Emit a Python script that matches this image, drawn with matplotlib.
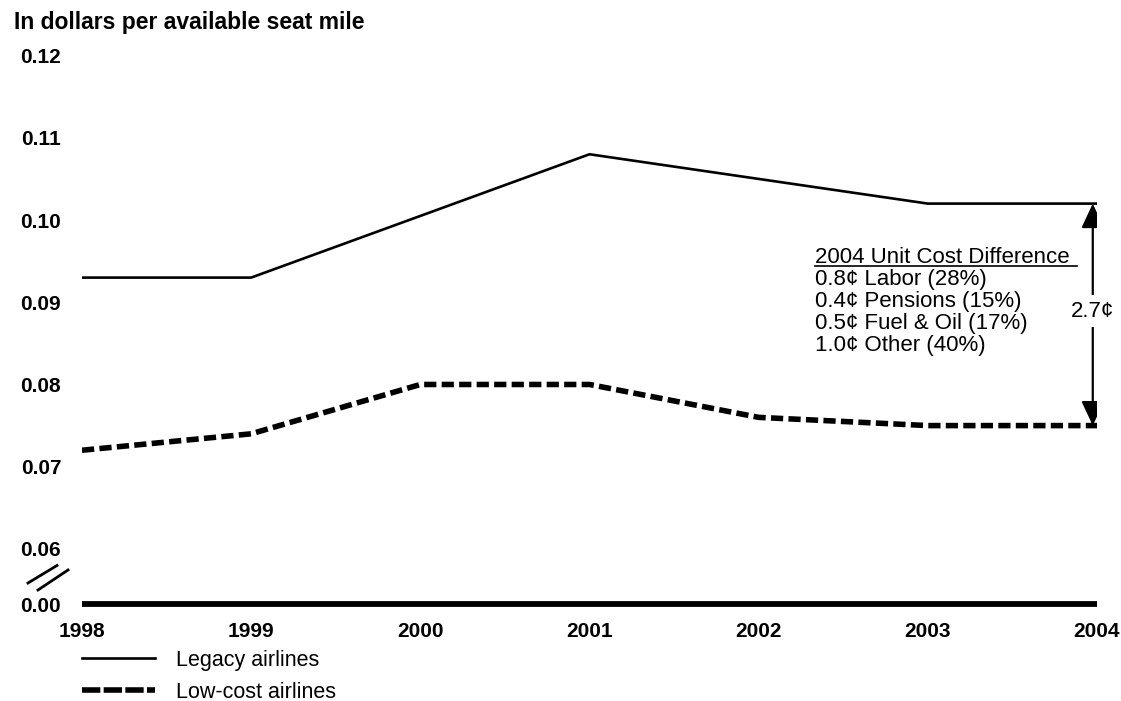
import matplotlib
matplotlib.use("Agg")
import matplotlib.pyplot as plt
from matplotlib.lines import Line2D
from matplotlib.patches import FancyArrowPatch

# Unit cost data, dollars per available seat mile
years = [1998, 1999, 2000, 2001, 2002, 2003, 2004]
legacy = [0.093, 0.093, 0.1005, 0.108, 0.105, 0.102, 0.102]
low_cost = [0.072, 0.074, 0.080, 0.080, 0.076, 0.075, 0.075]

y_ticks = [0.06, 0.07, 0.08, 0.09, 0.10, 0.11, 0.12]
y_tick_labels = ["0.06", "0.07", "0.08", "0.09", "0.10", "0.11", "0.12"]

breakdown_title = "2004 Unit Cost Difference"
breakdown_lines = [
    "0.8\u00a2 Labor (28%)",
    "0.4\u00a2 Pensions (15%)",
    "0.5\u00a2 Fuel & Oil (17%)",
    "1.0\u00a2 Other (40%)",
]

plt.rcParams["font.family"] = ["Liberation Sans", "DejaVu Sans"]

W, H = 1121, 701
fig = plt.figure(figsize=(W / 100, H / 100), dpi=100)

# the axis is broken: the baseline stands in for zero below 0.06
baseline = 0.0533
left_px, right_px, top_px, bottom_px = 82, 1097, 55.6, 604
ax = fig.add_axes([left_px / W, 1 - bottom_px / H,
                   (right_px - left_px) / W, (bottom_px - top_px) / H])
ax.set_xlim(years[0], years[-1])
ax.set_ylim(baseline, 0.12)

ax.plot(years, legacy, color="black", lw=1.9, solid_joinstyle="miter")
ax.plot(years, low_cost, color="black", lw=4, linestyle=(0, (2.2, 0.95)),
        dash_capstyle="butt")

for side in ("top", "right", "left"):
    ax.spines[side].set_visible(False)
ax.spines["bottom"].set_linewidth(4.2)
ax.spines["bottom"].set_capstyle("butt")

ax.set_yticks([baseline] + y_ticks)
ax.set_yticklabels(["0.00"] + y_tick_labels)
ax.set_xticks(years)
ax.set_xticklabels([str(y) for y in years])
ax.tick_params(axis="both", length=0, labelsize=15)
ax.tick_params(axis="y", pad=15)
ax.tick_params(axis="x", pad=13)
for lab in ax.get_xticklabels() + ax.get_yticklabels():
    lab.set_fontweight("bold")

# axis break marks
for x0, y0, x1, y1 in [(28, 583, 57, 565.5), (38, 590, 68, 570)]:
    fig.add_artist(Line2D([x0 / W, x1 / W], [1 - y0 / H, 1 - y1 / H],
                          transform=fig.transFigure, color="black", lw=2))

fig.text(14 / W, 1 - 22 / H, "In dollars per available seat mile",
         fontsize=16.5, fontweight="bold", ha="left", va="center")

# gap between the two series in 2004
x_arrow = years[-1] - 0.025
diff = legacy[-1] - low_cost[-1]
arrow = FancyArrowPatch((x_arrow, low_cost[-1]), (x_arrow, legacy[-1]),
                        arrowstyle="<|-|>,head_length=1.5,head_width=0.7",
                        mutation_scale=10, color="black", lw=1.6,
                        shrinkA=0, shrinkB=0)
ax.add_patch(arrow)
ax.text(x_arrow, (legacy[-1] + low_cost[-1]) / 2 + 0.0004,
        f"{diff * 100:.1f}\u00a2", fontsize=16, ha="center", va="center",
        bbox=dict(facecolor="white", edgecolor="none", pad=4))

# cost breakdown block
tx = 2002.333
ty = 0.0955
step = 0.00268
ax.text(tx, ty, breakdown_title, fontsize=16, ha="left", va="center")
ax.plot([tx, 2003.88], [ty - 0.0011, ty - 0.0011], color="black", lw=1.2)
for i, line in enumerate(breakdown_lines):
    ax.text(tx, ty - step * (i + 1), line, fontsize=16, ha="left", va="center")

handles = [
    Line2D([], [], color="black", lw=1.9),
    Line2D([], [], color="black", lw=4, linestyle=(0, (3.3, 0.6))),
]
fig.legend(handles, ["Legacy airlines", "Low-cost airlines"],
           loc="upper left", bbox_to_anchor=(82 / W, 1 - 650 / H),
           bbox_transform=fig.transFigure, frameon=False, fontsize=15.5,
           handlelength=3.4, handletextpad=0.95, labelspacing=0.5,
           borderpad=0, borderaxespad=0)

fig.savefig("out.png", dpi=100)
